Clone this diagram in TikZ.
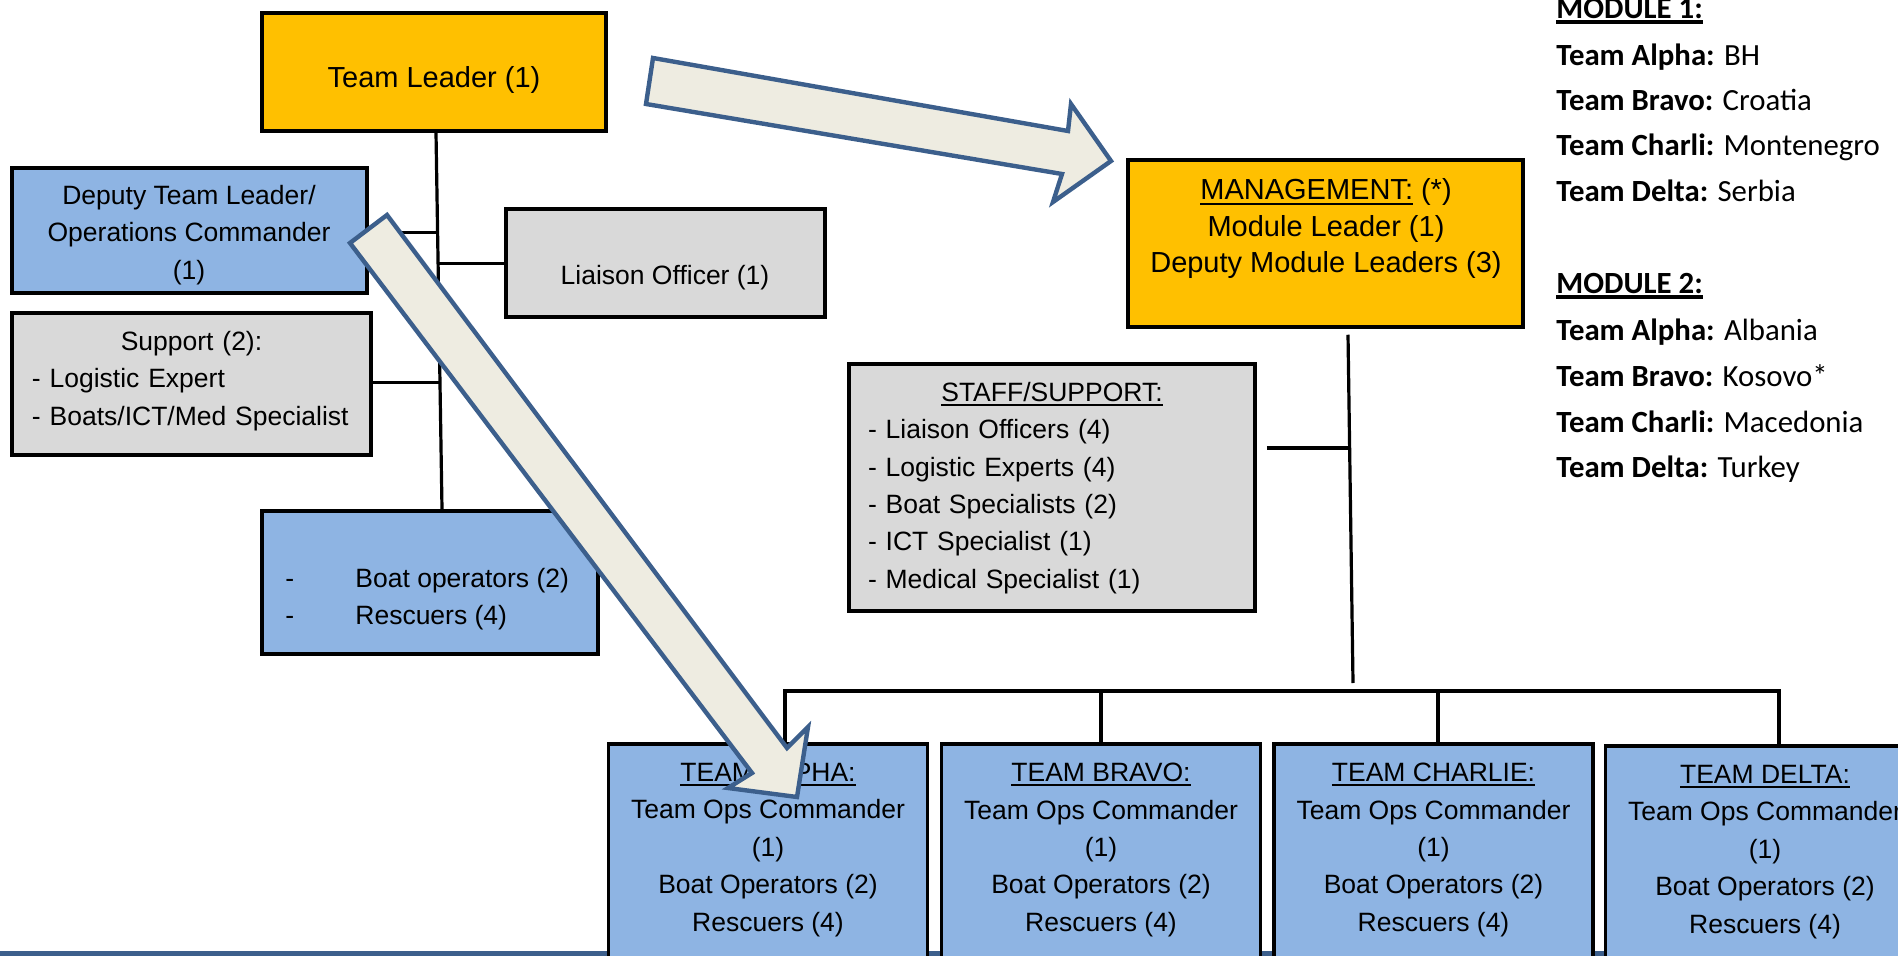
\documentclass[tikz,border=0pt]{standalone}
\usepackage{fontspec}
\setmainfont{Liberation Sans}
\newfontfamily\calibri{Carlito}
\usetikzlibrary{calc}

\definecolor{gold}{HTML}{FFC000}
\definecolor{skyblue}{HTML}{8EB4E3}
\definecolor{lightgrey}{HTML}{D9D9D9}
\definecolor{paper}{HTML}{EEECE1}
\definecolor{navy}{HTML}{3C5F8C}

% underlined text: #1 gap below baseline, #2 lower edge of the rule
\newcommand{\ulined}[3]{\setbox0=\hbox{#3}\rlap{\vrule width\wd0 height -#1 depth #2}\box0\relax}

\tikzset{
    box/.style={draw=black, line width=1.75pt, inner sep=0pt},
    txt/.style={inner sep=0pt, align=center, font=\fontsize{13.25}{18.7}\selectfont},
    bigtxt/.style={inner sep=0pt, align=center, font=\fontsize{14.5}{18.25}\selectfont},
    link/.style={line width=1.6pt},
    bigarrow/.style={draw=navy, fill=paper, line width=2.2pt, line join=miter},
    legend/.style={inner sep=0pt, anchor=base west, font=\calibri\fontsize{15.4}{18}\selectfont},
}

\begin{document}
\begin{tikzpicture}[x=0.5pt, y=-0.5pt]
        \useasboundingbox (0,0) rectangle (1898,956);
        \clip (0,0) rectangle (1898,956);

        % bottom bar
        \fill[navy] (0,951) rectangle (1898,957);

        % team leader side
        \node[box, fill=gold, minimum width=172pt, minimum height=59pt] (tl) at (434,72) {};
        \node[bigtxt] (tl-t) at (434,80) {Team Leader (1)};

        \node[box, fill=skyblue, minimum width=177.5pt, minimum height=62.5pt] (dtl) at (189.5,230.5) {};
        \node[txt] (dtl-t) at (189,235) {Deputy Team Leader/\\Operations Commander\\(1)};

        \node[box, fill=lightgrey, minimum width=159.5pt, minimum height=54pt] (lo) at (665.5,263) {};
        \node[txt] (lo-t) at (665,278) {Liaison Officer (1)};

        \node[box, fill=lightgrey, minimum width=179.5pt, minimum height=71pt] (sup) at (191.5,384) {};
        \node[txt, text width=159.5pt, align=left] (sup-t) at (191.5,381)
            {\makebox[\linewidth]{Support (2):}\\- Logistic Expert\\- Boats/ICT/Med Specialist};

        \node[box, fill=skyblue, minimum width=168pt, minimum height=71.5pt] (boat) at (430,582.5) {};
        \node[txt, align=left, anchor=west] (boat-t) at (285,599)
            {\makebox[35pt][l]{-}Boat operators (2)\\\makebox[35pt][l]{-}Rescuers (4)};

        \draw[link] ([xshift=1pt]tl.south)
            -- coordinate[pos=0.266] (sp1) coordinate[pos=0.347] (sp2) coordinate[pos=0.663] (sp3)
            ([xshift=6pt]boat.north);
        \draw[link] (dtl.east |- sp1) -- (sp1);
        \draw[link] (sp2) -- (lo.west |- sp2);
        \draw[link] (sup.east |- sp3) -- (sp3);

        % module side
        \node[box, fill=gold, minimum width=197.5pt, minimum height=83.5pt] (mgmt) at (1325.5,243.5) {};
        \node[bigtxt] (mgmt-t) at (1326,229)
            {\ulined{1.3pt}{2.3pt}{MANAGEMENT:} (*)\\Module Leader (1)\\Deputy Module Leaders (3)};

        \node[box, fill=lightgrey, minimum width=203pt, minimum height=123.5pt] (staff) at (1052,487.5) {};
        \node[txt, text width=184pt, align=left] (staff-t) at (1052,488)
            {\makebox[\linewidth]{\ulined{1.2pt}{2.1pt}{STAFF/SUPPORT:}}\\- Liaison Officers (4)\\- Logistic Experts (4)\\- Boat Specialists (2)\\- ICT Specialist (1)\\- Medical Specialist (1)};

        % teams
        \foreach \nm/\ttl/\x/\dy in {alpha/ALPHA/768/0, bravo/BRAVO/1101/0, charlie/CHARLIE/1433.5/0, delta/DELTA/1765/2} {
            \node[box, fill=skyblue, minimum width=159.5pt, minimum height=122.5pt] (\nm) at (\x,866.5+\dy) {};
            \node[txt] (\nm-t) at (\x,850+\dy)
                {\ulined{1.2pt}{2.1pt}{TEAM \ttl:}\\Team Ops Commander\\(1)\\Boat Operators (2)\\Rescuers (4)};
        }

        \coordinate (bus) at (1353,691);
        \draw[link] ([xshift=11.25pt, yshift=-3pt]mgmt.south)
            -- coordinate[pos=0.326] (sp4) ([yshift=4pt]bus);
        \draw[link, line width=2.2pt] ($(staff.east |- sp4)+(10,0)$) -- (sp4);
        \draw[link] ($(alpha.north)+(17,0)$) |- (bus) -| ($(delta.north)+(14,0)$);
        \draw[link] (bravo.north) -- (bravo.north |- bus);
        \draw[link] ($(charlie.north)+(4.5,0)$) -- ($(charlie.north |- bus)+(4.5,0)$);

        % legend
        \foreach \y/\entry [count=\i] in {
            19/{\ulined{0.7pt}{2.4pt}{\textbf{MODULE 1:}}},
            66/{\textbf{Team Alpha:} BH},
            111/{\textbf{Team Bravo:} Croatia},
            156/{\textbf{Team Charli:} Montenegro},
            202/{\textbf{Team Delta:} Serbia},
            294/{\ulined{0.7pt}{2.4pt}{\textbf{MODULE 2:}}},
            341/{\textbf{Team Alpha:} Albania},
            387/{\textbf{Team Bravo:} Kosovo*},
            432/{\textbf{Team Charli:} Macedonia},
            477/{\textbf{Team Delta:} Turkey}} {
            \node[legend] (leg\i) at (1556,\y) {\entry};
        }

        % block arrows
        \draw[bigarrow] (653,58) -- (1068,131) -- (1071,104) -- (1111,161)
            -- (1053,202) -- (1062,174) -- (646,104) -- cycle;
        \draw[bigarrow] (387,215) -- (787,748) -- (808,727) -- (797,797)
            -- (728,788) -- (752,773) -- (350,243) -- cycle;
\end{tikzpicture}
\end{document}
